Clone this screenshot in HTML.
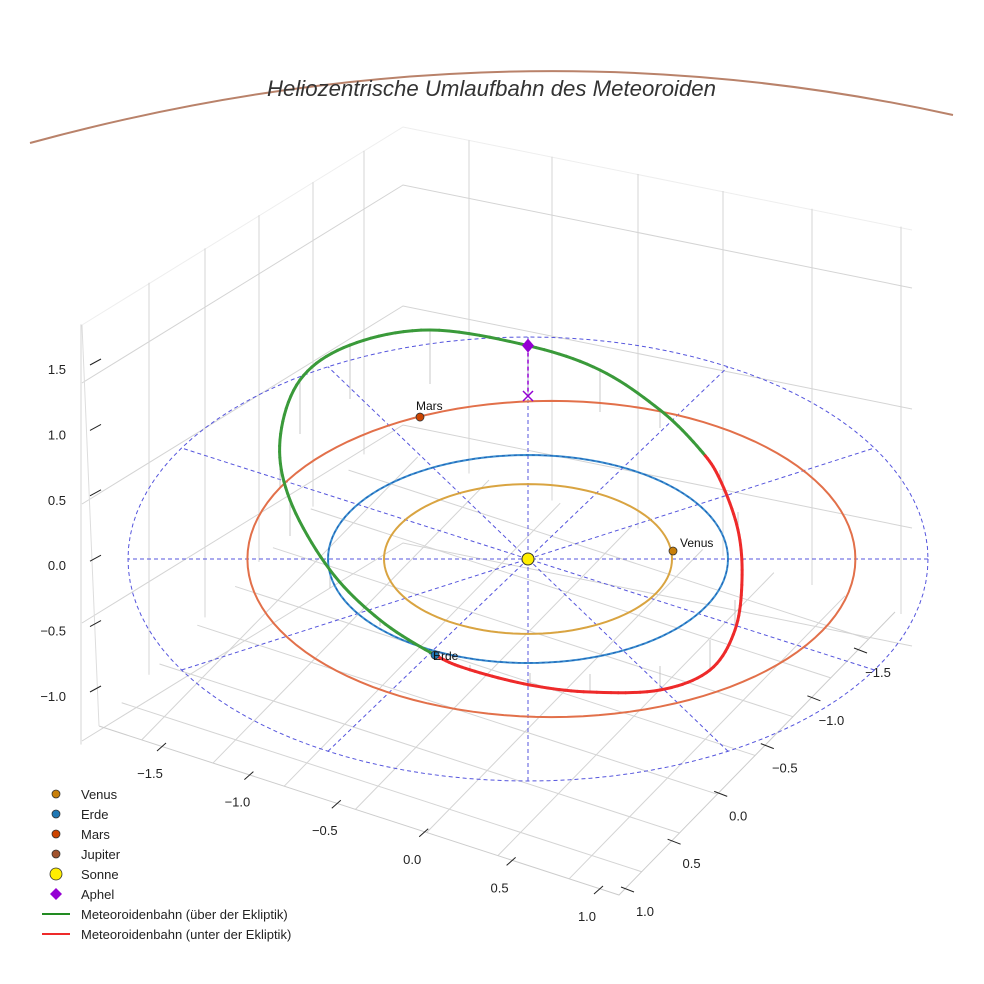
<!DOCTYPE html>
<html><head><meta charset="utf-8"><style>
html,body{margin:0;padding:0;background:#fff}
svg{display:block;font-family:"Liberation Sans",sans-serif}
</style></head><body>
<svg id="chart" width="984" height="984" viewBox="0 0 984 984">
<rect width="984" height="984" fill="#fff"/>
<g id="box"></g>
<g id="plot"></g>
<text x="267" y="96" textLength="449" lengthAdjust="spacingAndGlyphs" font-size="22" font-style="italic" fill="#333">Heliozentrische Umlaufbahn des Meteoroiden</text>
<g id="legend"></g>
</svg>
<script>
// ---- data ----
const planetNames = ["Venus","Erde","Mars"];
const planetRadii = [0.72, 1.0, 1.52];
const planetCenterX = [0, 0, 0.117];
const planetColors = ["#d9a441","#3b8fd0","#e2704a"];
const planetPosX = [0.725, -0.465, -0.54];
const planetPosY = [-0.077, 0.923, -1.365];
const planetDotColors = ["#c87f0a","#1f77b4","#cc4400"];
const metX = [-0.465,-0.74,-0.99,-1.19,-1.24,-1.14,-0.89,-0.49,0,0.36,0.66,0.86,0.96,1.05,1.07,1.035,0.91,0.66,0.31,0.01,-0.29];
const metY = [0.923,0.644,0.279,-0.221,-0.683,-1.202,-1.538,-1.683,-1.567,-1.413,-1.26,-1.03,-0.856,-0.452,-0.03,0.394,0.779,1.029,1.106,1.096,1.019];
const metZ = [0,0.05,0.15,0.3,0.4,0.45,0.45,0.45,0.42,0.35,0.15,0.02,-0.08,-0.15,-0.2,-0.25,-0.25,-0.2,-0.15,-0.1,-0.04];
const aphelX = 0, aphelY = -1.567, aphelZ = 0.42;
const ringRadius = 2.0;
const zTicks = ["1.5","1.0","0.5","0.0","−0.5","−1.0"];
const xTicks = ["−1.5","−1.0","−0.5","0.0","0.5","1.0"];
const yTicks = ["−1.5","−1.0","−0.5","0.0","0.5","1.0"];

const NS="http://www.w3.org/2000/svg";
function P(X,Y,Z){return [528+200*X, 559+104*Y-120*(Z||0)];}
function PR(X,Y){return [528+200*X, 559+111*Y];}
function mk(parent,tag,attrs){const e=document.createElementNS(NS,tag);for(const k in attrs)e.setAttribute(k,attrs[k]);parent.appendChild(e);return e;}
const box=document.getElementById('box'), plot=document.getElementById('plot'), leg=document.getElementById('legend');

// ---- axes box (static geometry) ----
const gl="#d4d4d4";
const FL=[99,726],FF=[619,895],FR=[895,612],FB=[375,443];
[127,185,306,425,543].forEach((y,i)=>{
  let l=mk(box,'polyline',{points:`82,${y+198} 403,${y} 912,${y+103}`,fill:'none',stroke:i==0?'#eee':gl,'stroke-width':1});
  
  
});
[81,149,205,259,313,364].forEach(x=>{
  const t=127+(403-x)*0.613, b=726-(x-99)*1.025;
  let l=mk(box,'line',{x1:x,y1:t,x2:x,y2:b,stroke:gl,'stroke-width':1});
  
  
});
[469,552,638,723,812,901].forEach(x=>{
  const t=127+(x-403)*0.2, b=443+(x-375)*0.325;
  let l=mk(box,'line',{x1:x,y1:t,x2:x,y2:b,stroke:gl,'stroke-width':1});
  
  
});
for(let i=0;i<=6;i++){const t=(i+0.6)/7.3;
  const a=[FL[0]+(FF[0]-FL[0])*t,FL[1]+(FF[1]-FL[1])*t],b=[FB[0]+(FR[0]-FB[0])*t,FB[1]+(FR[1]-FB[1])*t];
  let l=mk(box,'line',{x1:a[0],y1:a[1],x2:b[0],y2:b[1],stroke:gl});
  
  
  const c=[FF[0]+(FR[0]-FF[0])*t,FF[1]+(FR[1]-FF[1])*t],d=[FL[0]+(FB[0]-FL[0])*t,FL[1]+(FB[1]-FL[1])*t];
  let m=mk(box,'line',{x1:c[0],y1:c[1],x2:d[0],y2:d[1],stroke:gl});
  
  
}
let fe=mk(box,'polyline',{points:`${FL} ${FF} ${FR}`,fill:'none',stroke:'#ccc'});


let le=mk(box,'line',{x1:82,y1:325,x2:99,y2:726,stroke:'#ddd'});


zTicks.forEach((s,i)=>{const y=369+i*65.4;
  let t=mk(box,'text',{x:66,y:y+5,'text-anchor':'end','font-size':13,fill:'#222'});t.textContent=s;
  
  
  let l=mk(box,'line',{x1:90,y1:y-4,x2:101,y2:y-10,stroke:'#222'});
  
  
});
xTicks.forEach((s,i)=>{const x=150+i*87.4,y=773+i*28.6;
  let t=mk(box,'text',{x:x,y:y+5,'text-anchor':'middle','font-size':13,fill:'#222'});t.textContent=s;
  
  
  let l=mk(box,'line',{x1:x+7,y1:y-22,x2:x+16,y2:y-30,stroke:'#222'});
  
  
});
yTicks.forEach((s,i)=>{const x=878-i*46.6,y=672+i*47.8;
  let t=mk(box,'text',{x:x,y:y+5,'text-anchor':'middle','font-size':13,fill:'#222'});t.textContent=s;
  
  
  let l=mk(box,'line',{x1:x-24,y1:y-24,x2:x-11,y2:y-19,stroke:'#222'});
  
  
});

// ---- Jupiter arc ----
let jp=mk(plot,'path',{d:'M30,143 Q500,15 953,115',fill:'none',stroke:'#b9826a','stroke-width':2});



function ring(r,cx,proj){proj=proj||P;const pts=[];for(let a=0;a<=360;a+=3){const t=a*Math.PI/180;pts.push(proj((cx||0)+r*Math.cos(t),r*Math.sin(t),0).join(','));}return pts.join(' ');}
let rg=mk(plot,'polyline',{points:ring(ringRadius,0,PR),fill:'none',stroke:'#5555dd','stroke-width':1,'stroke-dasharray':'4,3'});


for(let k=0;k<6;k++){const t=k*Math.PI/6;const a=PR(ringRadius*Math.cos(t),ringRadius*Math.sin(t)),b=PR(-ringRadius*Math.cos(t),-ringRadius*Math.sin(t));
  let l=mk(plot,'line',{x1:a[0],y1:a[1],x2:b[0],y2:b[1],stroke:'#5555dd','stroke-width':1,'stroke-dasharray':'4,3'});
  
  
}
metX.forEach((x,i)=>{const a=P(x,metY[i],metZ[i]),b=P(x,metY[i],0);
  let l=mk(plot,'line',{x1:a[0],y1:a[1],x2:b[0],y2:b[1],stroke:'#bbb','stroke-width':0.8});
  
  
});
planetRadii.forEach((r,i)=>{
  let o=mk(plot,'polyline',{points:ring(r,planetCenterX[i]),fill:'none',stroke:planetColors[i],'stroke-width':2});
  
  
});
let ed=mk(plot,'polyline',{points:ring(1.0),fill:'none',stroke:'#1f5fb4','stroke-width':1,'stroke-dasharray':'3,3'});



const n=metX.length;const sm=[];
for(let i=0;i<n;i++){const p0=i-1<0?n-1:i-1,p1=i,p2=(i+1)%n,p3=(i+2)%n;
  for(let s=0;s<10;s++){const t=s/10,t2=t*t,t3=t2*t;
    const f=(a)=>0.5*((2*a[p1])+(-a[p0]+a[p2])*t+(2*a[p0]-5*a[p1]+4*a[p2]-a[p3])*t2+(-a[p0]+3*a[p1]-3*a[p2]+a[p3])*t3);
    sm.push([f(metX),f(metY),f(metZ)]);}}
sm.push(sm[0]);
for(let i=0;i<sm.length-1;i++){const a=P(...sm[i]),b=P(...sm[i+1]);const above=(sm[i][2]+sm[i+1][2])/2>=0;
  let l=mk(plot,'line',{x1:a[0],y1:a[1],x2:b[0],y2:b[1],stroke:above?'#3a9a3a':'#ee2a2a','stroke-width':3,'stroke-linecap':'round'});
  
  
}
const ap=P(aphelX,aphelY,aphelZ),apg=P(aphelX,aphelY,0);
let al=mk(plot,'line',{x1:ap[0],y1:ap[1],x2:apg[0],y2:apg[1],stroke:'#9400d3','stroke-width':1.5,'stroke-dasharray':'4,3'});


let ax=mk(plot,'path',{d:`M${apg[0]-5},${apg[1]-5}L${apg[0]+5},${apg[1]+5}M${apg[0]+5},${apg[1]-5}L${apg[0]-5},${apg[1]+5}`,stroke:'#9400d3','stroke-width':1.5});


let am=mk(plot,'path',{d:`M${ap[0]},${ap[1]-7}L${ap[0]+6},${ap[1]}L${ap[0]},${ap[1]+7}L${ap[0]-6},${ap[1]}Z`,fill:'#9400d3'});


const c=P(0,0,0);
let sun=mk(plot,'circle',{cx:c[0],cy:c[1],r:6,fill:'#ffee00',stroke:'#333','stroke-width':1});


planetNames.forEach((nm,i)=>{const p=P(planetPosX[i],planetPosY[i],0);
  let d=mk(plot,'circle',{cx:p[0],cy:p[1],r:4,fill:planetDotColors[i],stroke:'#333','stroke-width':0.8});
  
  
  const off=i==0?[7,-4]:(i==1?[-2,5]:[-4,-7]);
  let t=mk(plot,'text',{x:p[0]+off[0],y:p[1]+off[1],'font-size':12,fill:'#111'});t.textContent=nm;
  
  
});

const legLabels=["Venus","Erde","Mars","Jupiter","Sonne","Aphel","Meteoroidenbahn (über der Ekliptik)","Meteoroidenbahn (unter der Ekliptik)"];
const legColors=["#c87f0a","#1f77b4","#cc4400","#a0522d","#ffee00","#9400d3","#228b22","#ee2a2a"];
legLabels.forEach((s,i)=>{const y=794+i*20;
  if(i<5){let m=mk(leg,'circle',{cx:56,cy:y,r:i==4?6:4,fill:legColors[i],stroke:'#333','stroke-width':0.8});
    
    }
  else if(i==5){let m=mk(leg,'path',{d:`M56,${y-6}L62,${y}L56,${y+6}L50,${y}Z`,fill:legColors[i]});
    
    }
  else{let m=mk(leg,'line',{x1:42,y1:y,x2:70,y2:y,stroke:legColors[i],'stroke-width':2});
    
    }
  let t=mk(leg,'text',{x:81,y:y+5,'font-size':13,fill:'#222'});t.textContent=s;
  
  
});
</script>
</body></html>
